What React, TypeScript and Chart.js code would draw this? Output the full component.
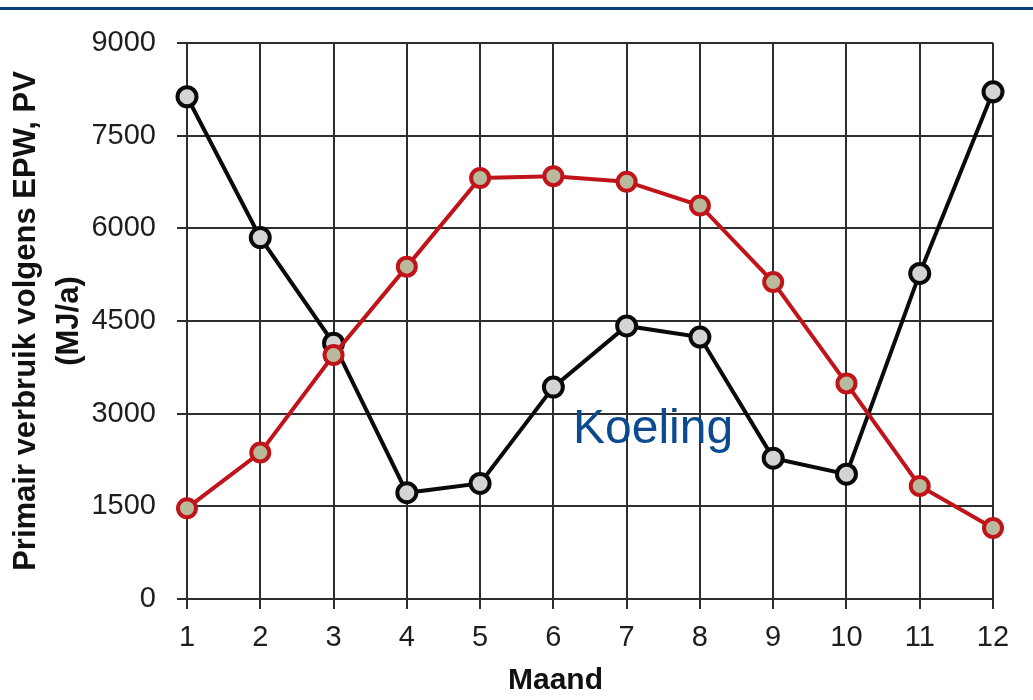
import React, { useEffect, useRef } from 'react';
import { Chart, registerables } from 'chart.js';

Chart.register(...registerables);

const months = ['1', '2', '3', '4', '5', '6', '7', '8', '9', '10', '11', '12'];
const yTickValues = [0, 1500, 3000, 4500, 6000, 7500, 9000];
const blackSeries = [8130, 5850, 4140, 1720, 1870, 3430, 4420, 4240, 2280, 2020, 5270, 8210];
const redSeries = [1470, 2370, 3950, 5380, 6815, 6845, 6755, 6370, 5130, 3490, 1830, 1150];
const yTitle = ['Primair verbruik volgens EPW, PV', '(MJ/a)'];
const xTitle = 'Maand';
const annotationText = 'Koeling';

const FONT = "'Liberation Sans', Arial, sans-serif";

const decorPlugin = {
  id: 'decor',
  afterDraw(chart: any) {
    const ctx = chart.ctx;
    ctx.save();
    // top blue rule
    ctx.fillStyle = '#0b3f7c';
    ctx.fillRect(0, 7, chart.width, 3);
    // annotation
    ctx.fillStyle = '#0b4a8c';
    ctx.font = `48px ${FONT}`;
    ctx.textAlign = 'left';
    ctx.textBaseline = 'alphabetic';
    ctx.fillText(annotationText, 573, 443);
    // x title
    ctx.fillStyle = '#111111';
    ctx.font = `bold 30px ${FONT}`;
    ctx.fillText(xTitle, 508, 689);
    ctx.restore();
  },
};

export default function App() {
  const ref = useRef<HTMLCanvasElement | null>(null);

  useEffect(() => {
    document.body.style.margin = '0';
    const canvas = ref.current;
    if (!canvas) return;
    const chart = new Chart(canvas, {
      type: 'line',
      data: {
        labels: months,
        datasets: [
          {
            label: 'red',
            data: redSeries,
            borderColor: '#c0141a',
            borderWidth: 4,
            pointRadius: 9,
            pointBorderWidth: 4,
            pointBackgroundColor: '#b9b99c',
            pointBorderColor: '#c0141a',
            tension: 0,
            order: 0,
          },
          {
            label: 'black',
            data: blackSeries,
            borderColor: '#0a0a0a',
            borderWidth: 4,
            pointRadius: 9.5,
            pointBorderWidth: 4,
            pointBackgroundColor: '#d4d4d4',
            pointBorderColor: '#0a0a0a',
            tension: 0,
            order: 1,
          },
        ],
      },
      options: {
        responsive: false,
        animation: false,
        layout: { padding: { top: 43, right: 40, left: 0, bottom: 0 } },
        plugins: {
          legend: { display: false },
          tooltip: { enabled: false },
        },
        scales: {
          x: {
            type: 'category',
            offset: false,
            grid: { color: '#2e2e2e', lineWidth: 2, tickLength: 10, drawTicks: true },
            border: { color: '#2e2e2e', width: 2 },
            ticks: {
              color: '#1e1e1e',
              font: { family: FONT, size: 29 },
              padding: 12,
              maxRotation: 0,
              autoSkip: false,
            },
            afterFit(scale: any) {
              scale.height = 101;
            },
          },
          y: {
            type: 'linear',
            min: 0,
            max: 9000,
            grid: { color: '#2e2e2e', lineWidth: 2, tickLength: 10, drawTicks: true },
            border: { color: '#2e2e2e', width: 2 },
            ticks: {
              color: '#1e1e1e',
              font: { family: FONT, size: 29 },
              padding: 21,
              callback: (v: any) => String(v),
            },
            afterBuildTicks(scale: any) {
              scale.ticks = yTickValues.map((v) => ({ value: v }));
            },
            title: {
              display: true,
              text: yTitle,
              color: '#111111',
              font: { family: FONT, size: 31, weight: 'bold', lineHeight: 1.38 },
              padding: { top: 5, bottom: 0 },
            },
            afterFit(scale: any) {
              scale.width = 187;
            },
          },
        },
      },
      plugins: [decorPlugin],
    } as any);
    return () => chart.destroy();
  }, []);

  return (
    <div style={{ width: 1033, height: 700, background: '#ffffff' }}>
      <canvas ref={ref} width={1033} height={700} style={{ display: 'block' }} />
    </div>
  );
}
